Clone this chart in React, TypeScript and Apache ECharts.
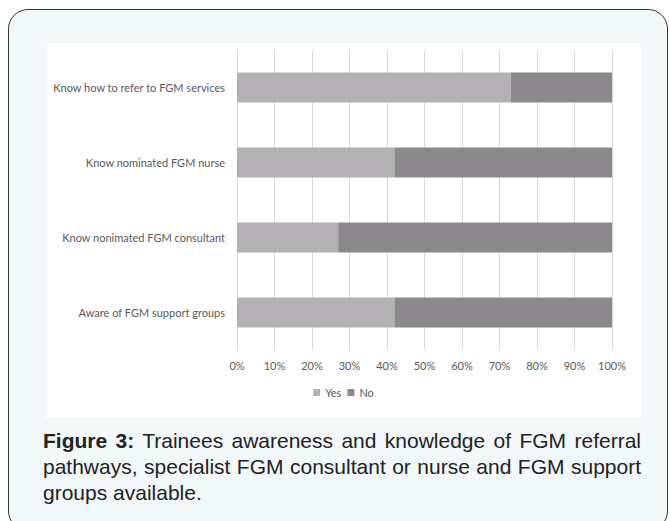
import React, { useEffect, useRef } from "react";
import * as echarts from "echarts";

const categories = [
  "Aware of FGM support groups",
  "Know nonimated FGM consultant",
  "Know nominated FGM nurse",
  "Know how to refer to FGM services",
];
const yesValues = [42, 27, 42, 73];
const noValues = [58, 73, 58, 27];
const seriesNames = ["Yes", "No"];

export default function App() {
  const ref = useRef<HTMLDivElement>(null);
  useEffect(() => {
    if (!ref.current) return;
    const chart = echarts.init(ref.current, null, { renderer: "svg" });
    const labelFont = "Lato, 'Open Sans', sans-serif";
    chart.setOption({
      animation: false,
      backgroundColor: "#ffffff",
      grid: { left: 191, right: 29, top: 7, bottom: 68, containLabel: false },
      legend: {
        bottom: 15,
        left: "center",
        itemWidth: 7,
        itemHeight: 7,
        itemGap: 6,
        icon: "rect",
        textStyle: { color: "#595959", fontSize: 11, fontFamily: labelFont },
        data: seriesNames,
      },
      xAxis: {
        type: "value",
        min: 0,
        max: 100,
        interval: 10,
        axisLine: { show: false },
        axisTick: { show: false },
        splitLine: { show: true, lineStyle: { color: "#d9d9d9", width: 1 } },
        axisLabel: {
          formatter: "{value}%",
          color: "#595959",
          fontSize: 11,
          fontFamily: labelFont,
          margin: 10,
        },
      },
      yAxis: {
        type: "category",
        data: categories,
        axisLine: { show: false },
        axisTick: { show: false },
        axisLabel: {
          color: "#595959",
          fontSize: 11,
          fontFamily: labelFont,
          margin: 12,
        },
      },
      series: [
        {
          name: seriesNames[0],
          type: "bar",
          stack: "total",
          data: yesValues,
          barCategoryGap: "60%",
          itemStyle: { color: "#b3b1b4" },
        },
        {
          name: seriesNames[1],
          type: "bar",
          stack: "total",
          data: noValues,
          barCategoryGap: "60%",
          itemStyle: { color: "#8b898c" },
        },
      ],
    });
    return () => chart.dispose();
  }, []);

  const capStyle: React.CSSProperties = {
    fontFamily: "'Liberation Sans', Arial, sans-serif",
    fontSize: 21,
    lineHeight: "26px",
    color: "#222",
    textAlign: "justify",
    textAlignLast: "justify",
    whiteSpace: "nowrap",
  };

  return (
    <div
      style={{
        position: "fixed",
        left: 0,
        top: 0,
        width: 670,
        height: 521,
        overflow: "hidden",
        background: "#ffffff",
      }}
    >
      <div
        style={{
          position: "absolute",
          left: 8,
          top: 9,
          width: 658,
          height: 520,
          border: "1.5px solid #333",
          borderRadius: 20,
          background: "#f2f7fa",
        }}
      />
      <div
        ref={ref}
        style={{ position: "absolute", left: 46, top: 43, width: 595, height: 375 }}
      />
      <div style={{ position: "absolute", left: 43, top: 428, width: 598 }}>
        <div style={capStyle}>
          <b>Figure 3:</b> Trainees awareness and knowledge of FGM referral
        </div>
        <div style={capStyle}>
          pathways, specialist FGM consultant or nurse and FGM support
        </div>
        <div style={{ ...capStyle, textAlign: "left", textAlignLast: "left" }}>
          groups available.
        </div>
      </div>
    </div>
  );
}
